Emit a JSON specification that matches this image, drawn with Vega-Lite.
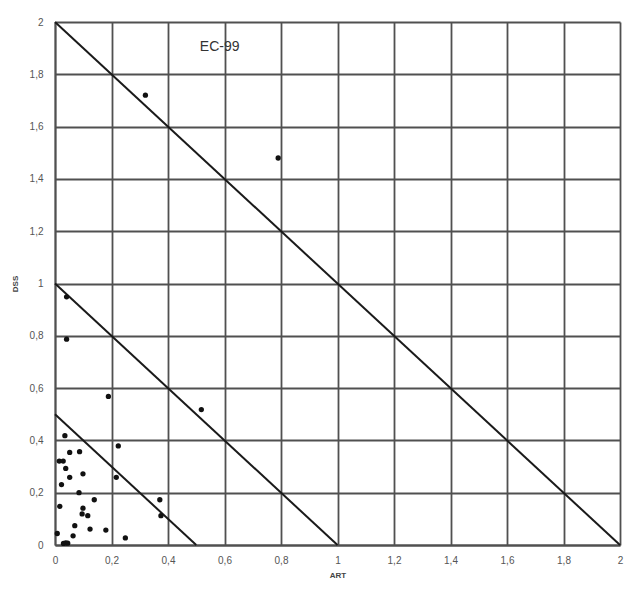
{
  "$schema": "https://vega.github.io/schema/vega-lite/v6.json",
  "width": 565,
  "height": 523,
  "autosize": {"type": "none"},
  "padding": {"left": 55, "top": 22, "right": 7, "bottom": 52},
  "background": "white",
  "config": {
    "view": {"stroke": null},
    "font": "Liberation Sans",
    "axis": {
      "grid": true,
      "gridColor": "#505050",
      "gridWidth": 1.8,
      "gridOpacity": 1,
      "domainColor": "#505050",
      "domainWidth": 1.8,
      "ticks": false,
      "labelFont": "Liberation Sans",
      "labelFontSize": 10,
      "labelColor": "#555",
      "titleFont": "Liberation Sans",
      "titleFontSize": 8,
      "titleFontWeight": "bold",
      "titleColor": "#444"
    }
  },
  "datasets": {
    "points": [
      {"ART": 0.32, "DSS": 1.72},
      {"ART": 0.79, "DSS": 1.48},
      {"ART": 0.041, "DSS": 0.949},
      {"ART": 0.041, "DSS": 0.787},
      {"ART": 0.189, "DSS": 0.568},
      {"ART": 0.518, "DSS": 0.518},
      {"ART": 0.035, "DSS": 0.418},
      {"ART": 0.224, "DSS": 0.379},
      {"ART": 0.087, "DSS": 0.357},
      {"ART": 0.052, "DSS": 0.354},
      {"ART": 0.015, "DSS": 0.321},
      {"ART": 0.029, "DSS": 0.321},
      {"ART": 0.038, "DSS": 0.293},
      {"ART": 0.099, "DSS": 0.272},
      {"ART": 0.052, "DSS": 0.259},
      {"ART": 0.217, "DSS": 0.259},
      {"ART": 0.023, "DSS": 0.231},
      {"ART": 0.085, "DSS": 0.2},
      {"ART": 0.139, "DSS": 0.173},
      {"ART": 0.371, "DSS": 0.173},
      {"ART": 0.017, "DSS": 0.148},
      {"ART": 0.099, "DSS": 0.141},
      {"ART": 0.096, "DSS": 0.119},
      {"ART": 0.116, "DSS": 0.112},
      {"ART": 0.375, "DSS": 0.112},
      {"ART": 0.07, "DSS": 0.074},
      {"ART": 0.124, "DSS": 0.061},
      {"ART": 0.18, "DSS": 0.057},
      {"ART": 0.008, "DSS": 0.044},
      {"ART": 0.064, "DSS": 0.035},
      {"ART": 0.249, "DSS": 0.027},
      {"ART": 0.03, "DSS": 0.006},
      {"ART": 0.038, "DSS": 0.008},
      {"ART": 0.045, "DSS": 0.007}
    ],
    "lines": [
      {"g": "a", "ART": 0, "DSS": 2},
      {"g": "a", "ART": 2, "DSS": 0},
      {"g": "b", "ART": 0, "DSS": 1},
      {"g": "b", "ART": 1, "DSS": 0},
      {"g": "c", "ART": 0, "DSS": 0.5},
      {"g": "c", "ART": 0.5, "DSS": 0}
    ]
  },
  "layer": [
    {
      "data": {"name": "lines"},
      "mark": {"type": "line", "color": "#1a1a1a", "strokeWidth": 2},
      "encoding": {
        "x": {
          "field": "ART", "type": "quantitative",
          "scale": {"domain": [0, 2], "nice": false},
          "axis": {"values": [0, 0.2, 0.4, 0.6, 0.8, 1, 1.2, 1.4, 1.6, 1.8, 2], "labelExpr": "replace(format(datum.value, '~g'), '.', ',')", "labelPadding": 10, "title": "ART", "titlePadding": 6, "labelFlush": false}
        },
        "y": {
          "field": "DSS", "type": "quantitative",
          "scale": {"domain": [0, 2], "nice": false},
          "axis": {"values": [0, 0.2, 0.4, 0.6, 0.8, 1, 1.2, 1.4, 1.6, 1.8, 2], "labelExpr": "replace(format(datum.value, '~g'), '.', ',')", "labelPadding": 12, "title": "DSS", "titlePadding": 10, "labelFlush": false}
        },
        "detail": {"field": "g"}
      }
    },
    {
      "data": {"name": "points"},
      "mark": {"type": "circle", "color": "#111", "opacity": 1, "size": 28},
      "encoding": {
        "x": {"field": "ART", "type": "quantitative"},
        "y": {"field": "DSS", "type": "quantitative"}
      }
    },
    {
      "data": {"values": [{"label": "EC-99"}]},
      "mark": {"type": "text", "fontSize": 14, "color": "#333", "font": "Liberation Sans"},
      "encoding": {
        "x": {"datum": 0.583},
        "y": {"datum": 1.906},
        "text": {"field": "label"}
      }
    }
  ]
}
